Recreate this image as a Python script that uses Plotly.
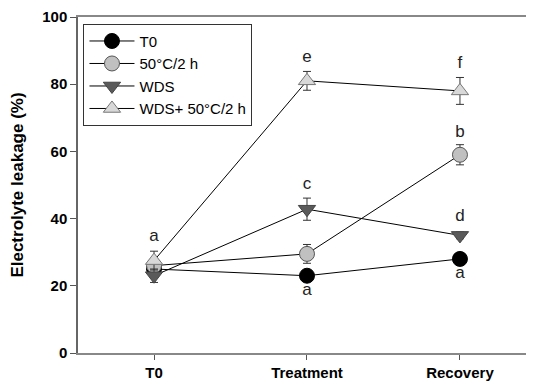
import plotly.graph_objects as go

stages = ["T0", "Treatment", "Recovery"]
series_names = ["T0", "50°C/2 h", "WDS", "WDS+ 50°C/2 h"]
t0_vals = [25, 23, 28]
t0_err = [1, 1, 1]
heat_vals = [26, 29.5, 59]
heat_err = [1, 2.8, 3]
wds_vals = [23, 42.8, 35]
wds_err = [2, 3.3, 1]
wdsheat_vals = [27.5, 81, 78]
wdsheat_err = [2.8, 2.8, 4]

letters_x = ["T0", "Treatment", "Treatment", "Treatment", "Recovery", "Recovery", "Recovery", "Recovery"]
letters_y = [34.5, 88, 50, 18.5, 86, 65.5, 40.5, 23.5]
letters = ["a", "e", "c", "a", "f", "b", "d", "a"]

styles = [
    dict(symbol="circle", color="black", line=dict(color="black", width=1), size=15),
    dict(symbol="circle", color="#c0c0c0", line=dict(color="#555555", width=1), size=15),
    dict(symbol="triangle-down", color="#5a5a5a", line=dict(color="#444444", width=1), size=15),
    dict(symbol="triangle-up", color="#d8d8d8", line=dict(color="#777777", width=1), size=15),
]

fig = go.Figure()
all_vals = [t0_vals, heat_vals, wds_vals, wdsheat_vals]
all_err = [t0_err, heat_err, wds_err, wdsheat_err]
for i in range(4):
    fig.add_trace(go.Scatter(
        x=stages, y=all_vals[i], name=series_names[i],
        mode="lines+markers",
        line=dict(color="black", width=1),
        marker=styles[i],
        error_y=dict(type="data", array=all_err[i], color="#333333", thickness=1, width=4),
    ))

fig.add_trace(go.Scatter(
    x=letters_x, y=letters_y, mode="text", text=letters, showlegend=False,
    textfont=dict(family="Liberation Sans, Arial", size=17, color="#222222"),
    hoverinfo="skip",
))

# page body has an 8px default margin; figure is sized/offset to compensate
fig.update_layout(
    width=526, height=378,
    margin=dict(l=70, r=0, t=9, b=33),
    paper_bgcolor="white", plot_bgcolor="white",
    font=dict(family="Liberation Sans, Arial", color="black"),
    showlegend=True,
    legend=dict(
        x=0.012, y=0.98, xanchor="left", yanchor="top",
        bordercolor="#333333", borderwidth=1, bgcolor="white",
        font=dict(size=15, family="Liberation Sans, Arial"),
        tracegroupgap=0, itemwidth=45,
    ),
    xaxis=dict(
        type="category", range=[-0.497, 2.484],
        showline=True, linecolor="#888888", linewidth=2, mirror=True,
        ticks="outside", ticklen=5, tickcolor="#555555",
        showgrid=False, zeroline=False,
        tickfont=dict(size=15, family="Liberation Sans, Arial", color="black", weight="bold"),
    ),
    yaxis=dict(
        range=[0, 100], tickvals=[0, 20, 40, 60, 80, 100],
        showline=True, linecolor="#666666", linewidth=1.5,
        ticks="outside", ticklen=6, tickcolor="#555555",
        showgrid=False, zeroline=False,
        tickfont=dict(size=15, family="Liberation Sans, Arial", color="black", weight="bold"),
        title=dict(text="Electrolyte leakage (%)", standoff=15,
                   font=dict(size=17, family="Liberation Sans, Arial", color="black", weight="bold")),
    ),
)

fig.write_html("out.html")
